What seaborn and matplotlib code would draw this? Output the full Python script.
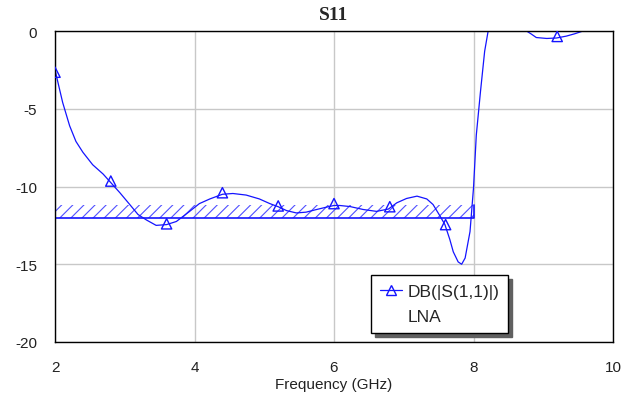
import pandas as pd
import seaborn as sns
import matplotlib.pyplot as plt
from matplotlib.lines import Line2D

# S11 trace (GHz, dB); values above 0 dB are clipped away
freq = [2.00, 2.11, 2.21, 2.30, 2.40, 2.54, 2.69, 2.80, 2.93, 3.07, 3.19, 3.31,
        3.45, 3.60, 3.74, 3.93, 4.07, 4.22, 4.40, 4.55, 4.74, 4.93, 5.08, 5.20,
        5.32, 5.46, 5.60, 5.75, 5.89, 6.00, 6.08, 6.23, 6.42, 6.61, 6.78, 6.90,
        7.04, 7.19, 7.33, 7.42, 7.52, 7.59, 7.66, 7.71, 7.78, 7.83, 7.88, 7.95,
        8.00, 8.04, 8.10, 8.16, 8.21, 8.30, 8.45, 8.60, 8.76, 8.83, 8.90, 9.05,
        9.19, 9.33, 9.45, 9.57, 9.80, 10.00]
s11_db = [-2.5, -4.6, -6.1, -7.1, -7.8, -8.6, -9.2, -9.75, -10.4, -11.15, -11.8, -12.15,
          -12.5, -12.45, -12.25, -11.6, -11.1, -10.8, -10.5, -10.45, -10.55, -10.8, -11.1, -11.3,
          -11.55, -11.7, -11.65, -11.48, -11.33, -11.22, -11.22, -11.29, -11.48, -11.6, -11.45, -11.05,
          -10.77, -10.62, -10.8, -11.16, -11.9, -12.45, -13.4, -14.2, -14.85, -15.0, -14.6, -12.9,
          -10.1, -6.7, -3.9, -1.3, 0.0, 1.0, 1.5, 1.0, 0.0, -0.2, -0.42, -0.48,
          -0.45, -0.33, -0.18, 0.0, 0.6, 1.0]

# triangle markers every 0.8 GHz
marker_freq = [2.0, 2.8, 3.6, 4.4, 5.2, 6.0, 6.8, 7.6, 8.4, 9.2, 10.0]
marker_db = [-2.65, -9.65, -12.4, -10.4, -11.25, -11.1, -11.3, -12.45, 1.4, -0.35, 1.0]

# hatched spec mask
mask_freq = [2, 8]
mask_low = -12.0
mask_high = -11.2

x_ticks = [2, 4, 6, 8, 10]
y_ticks = [0, -5, -10, -15, -20]

sns.set_style('white')
plt.rcParams['font.family'] = ['Liberation Sans', 'DejaVu Sans']
plt.rcParams['hatch.linewidth'] = 0.8
plt.rcParams['axes.unicode_minus'] = False

blue = '#1414ff'
fs = 11

fig = plt.figure(figsize=(6.24, 4.06), dpi=100)
ax = fig.add_axes([55 / 624, 1 - 343 / 406, 558 / 624, 311 / 406])

# mask: hatched band with sides and bottom outlined
ax.fill_between(mask_freq, mask_low, mask_high, facecolor='none',
                edgecolor='#5050ff', hatch='///', linewidth=0)
ax.plot([mask_freq[0], mask_freq[0], mask_freq[1], mask_freq[1]],
        [mask_high, mask_low, mask_low, mask_high], color=blue, lw=1.2)

df = pd.DataFrame({'freq': freq, 'db': s11_db})
sns.lineplot(data=df, x='freq', y='db', color=blue, lw=0.9, estimator=None, ax=ax)
sns.scatterplot(x=marker_freq, y=marker_db, marker='^', s=55, color=blue,
                facecolor='none', edgecolor=blue, linewidth=1, ax=ax, zorder=3)

ax.set_xlim(2, 10)
ax.set_ylim(-20, 0)
ax.set_xticks(x_ticks)
ax.set_yticks(y_ticks)
ax.grid(True, color='#c8c8c8', lw=1)
ax.tick_params(length=0, labelsize=fs, labelcolor='#222222')
ax.tick_params(axis='x', pad=13)
ax.tick_params(axis='y', pad=13)
for sp in ax.spines.values():
    sp.set_color('black')
    sp.set_linewidth(1)

ax.set_xlabel('Frequency (GHz)', fontsize=fs, color='#222222', labelpad=2)
ax.set_ylabel('')
ax.set_title('S11', fontfamily='Liberation Serif', fontweight='bold', fontsize=14, pad=9)

handles = [Line2D([], [], color=blue, lw=0.9, marker='^', markersize=7,
                  markerfacecolor='none', markeredgecolor=blue),
           Line2D([], [], linestyle='none')]
ax.legend(handles, ['DB(|S(1,1)|)', 'LNA'], loc='upper left',
          bbox_to_anchor=(0.566, 0.216), borderaxespad=0, fontsize=12.5,
          frameon=True, fancybox=False, edgecolor='black', framealpha=1,
          shadow={'ox': 3, 'oy': -3, 'color': '#606060', 'alpha': 1},
          handlelength=1.3, handletextpad=0.3, borderpad=0.5, labelspacing=0.6)
ax.get_legend().get_frame().set_linewidth(1)

fig.savefig('out.png', dpi=100)
